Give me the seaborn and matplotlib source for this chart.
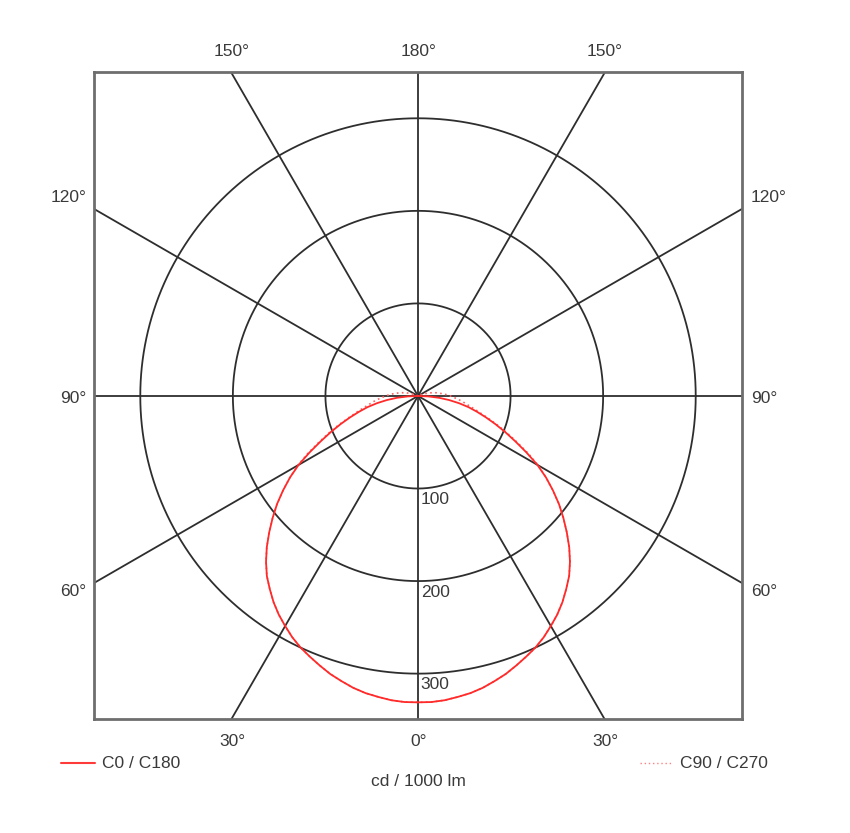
import numpy as np
import pandas as pd
import matplotlib
matplotlib.use("Agg")
import matplotlib.pyplot as plt
import seaborn as sns
from matplotlib.lines import Line2D

# ---------------- data ----------------
# C0 / C180 luminous intensity, cd / 1000 lm
c0_angles = [0, 2.5, 5, 7.5, 10, 12.5, 15, 17.5, 20, 22.5, 25, 27.5, 30, 32.5, 35, 37.5,
             40, 42.5, 45, 47.5, 50, 52.5, 55, 57.5, 60, 62.5, 65, 67.5, 70, 72.5, 75,
             77.5, 80, 82.5, 85, 87.5, 90]
c0_values = [331, 331, 330, 328, 326, 323, 319, 315, 310, 305, 300, 294, 287, 280, 272, 263,
             254, 243, 231, 218, 205, 192, 178, 164, 149, 132, 116, 102, 89, 77, 66,
             56, 45, 34, 23, 11, 0]
# C90 / C270
c90_angles = [0, 2.5, 5, 7.5, 10, 12.5, 15, 17.5, 20, 22.5, 25, 27.5, 30, 32.5, 35, 37.5,
              40, 42.5, 45, 47.5, 50, 52.5, 55, 57.5, 60, 62.5, 65, 67.5, 70, 72.5, 75,
              77.5, 80, 82.5, 85, 87.5, 90, 92.5, 95, 97.5, 100, 102.5, 105, 107.5, 110,
              112.5, 115, 117.5, 120]
c90_values = [331, 331, 330, 328, 326, 323, 319, 315, 310, 305, 300, 294, 287, 280, 272, 263,
              254, 243, 231, 218, 205, 192, 178, 164, 150, 134, 118, 104, 91, 79, 69,
              61, 54, 49, 44, 39, 35, 31, 27, 23, 20, 16, 13, 9, 6, 4, 2, 1, 0]

ring_values = [100, 200, 300]
ring_labels = ["100", "200", "300"]
spoke_angles = [0, 30, 60, 90, 120, 150]
top_labels = ["150°", "180°", "150°"]
side_labels = ["120°", "90°", "60°"]
bottom_labels = ["30°", "0°", "30°"]
legend_labels = ["C0 / C180", "C90 / C270"]
unit_label = "cd / 1000 lm"

# ---------------- build table ----------------
def half_curves(angles, values, name):
    rows = []
    a = np.array(angles, float)
    v = np.array(values, float)
    order = 0
    for ang, val in zip(a[::-1], v[::-1]):
        t = np.deg2rad(ang)
        rows.append((name, order, -val * np.sin(t), -val * np.cos(t)))
        order += 1
    for ang, val in zip(a[1:], v[1:]):
        t = np.deg2rad(ang)
        rows.append((name, order, val * np.sin(t), -val * np.cos(t)))
        order += 1
    return rows

rows = half_curves(c0_angles, c0_values, legend_labels[0]) + \
       half_curves(c90_angles, c90_values, legend_labels[1])
df = pd.DataFrame(rows, columns=["series", "order", "x", "y"])

# ---------------- figure ----------------
sns.set_style("white")
plt.rcParams["font.family"] = ["Liberation Sans", "DejaVu Sans"]
W, H = 850, 833
fig = plt.figure(figsize=(W / 100, H / 100), dpi=100)
L, R, T, B = 94, 742, 72, 719
ax = fig.add_axes([L / W, 1 - B / H, (R - L) / W, (B - T) / H])
ax.set_xlim(-350, 350)
ax.set_ylim(-349, 350)

grid_col = "#2e2e2e"
txt_col = "#3a3a3a"

th = np.linspace(0, 2 * np.pi, 721)
for r in ring_values:
    ax.plot(r * np.cos(th), r * np.sin(th), color=grid_col, lw=1.3, zorder=1)
for a in spoke_angles:
    t = np.deg2rad(a)
    ax.plot([-1000 * np.sin(t), 1000 * np.sin(t)], [1000 * np.cos(t), -1000 * np.cos(t)],
            color=grid_col, lw=1.3, zorder=1)

sns.lineplot(data=df[df.series == legend_labels[1]], x="x", y="y", sort=False, estimator=None,
             color="#ff6060", lw=1.2, linestyle=(0, (1, 2)), ax=ax, zorder=3, legend=False)
sns.lineplot(data=df[df.series == legend_labels[0]], x="x", y="y", sort=False, estimator=None,
             color="#ff2a2a", lw=1.3, ax=ax, zorder=4, legend=False)

ax.set_xticks([])
ax.set_yticks([])
ax.set_xlabel("")
ax.set_ylabel("")
for s in ax.spines.values():
    s.set_color("#6e6e6e")
    s.set_linewidth(2)
    s.set_visible(True)

for r, lab in zip(ring_values, ring_labels):
    ax.text(3, -r - 4, lab, ha="left", va="top", fontsize=12.5, color=txt_col, zorder=5)

def ftext(px, py, s, ha="center", va="center"):
    fig.text(px / W, 1 - py / H, s, ha=ha, va=va, fontsize=12.5, color=txt_col)

for px, s in zip([232, 419, 605], top_labels):
    ftext(px, 51, s)
for px, s in zip([232, 419, 605], bottom_labels):
    ftext(px, 742, s)
for py, s in zip([197, 398, 592], side_labels):
    ftext(86, py, s, ha="right")
    ftext(751, py, s, ha="left")

fig.add_artist(Line2D([61 / W, 95 / W], [1 - 763 / H, 1 - 763 / H], color="#ff3a3a", lw=1.5))
ftext(102, 763, legend_labels[0], ha="left")
fig.add_artist(Line2D([640 / W, 672 / W], [1 - 763 / H, 1 - 763 / H], color="#ff8080", lw=1.0,
                      linestyle=(0, (1, 2))))
ftext(680, 763, legend_labels[1], ha="left")
ftext(418, 782, unit_label)

fig.savefig("out.png", dpi=100, facecolor="white")
